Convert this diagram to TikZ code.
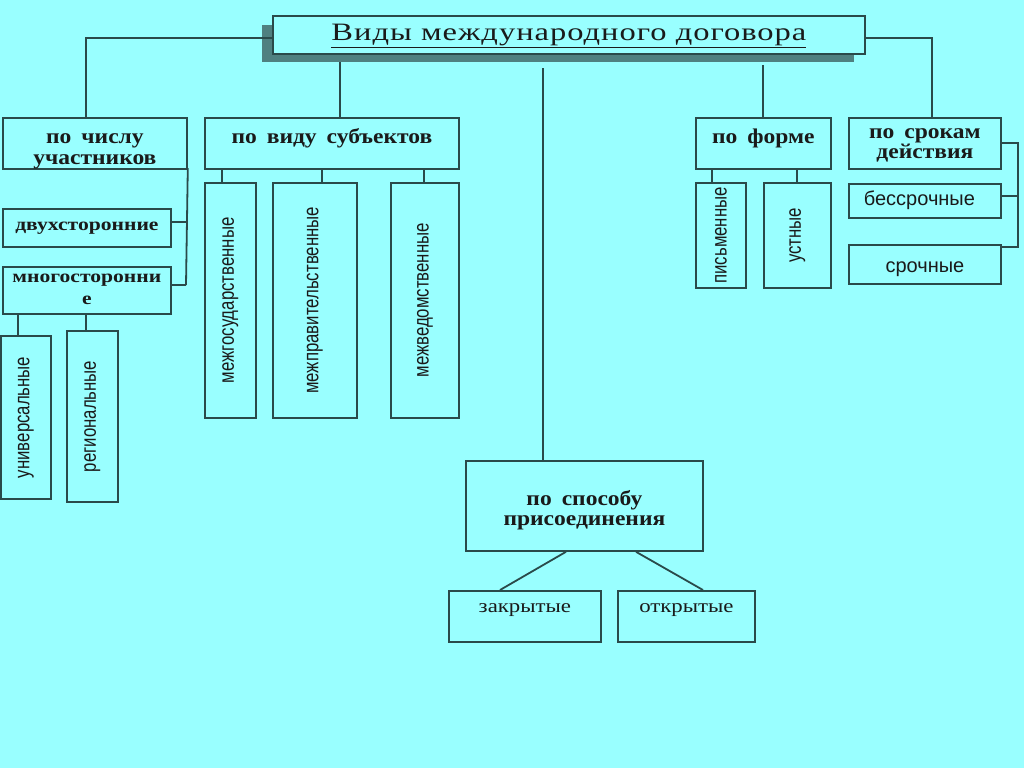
\documentclass[tikz,border=0pt]{standalone}
\usepackage{fontspec}
\setmainfont{Liberation Serif}
\newfontfamily\serh[FakeStretch=1.12,WordSpace=1.7]{Liberation Serif}
\newfontfamily\serw[FakeStretch=1.2]{Liberation Serif}
\newfontfamily\titlefont[FakeStretch=1.3,LetterSpace=4]{Liberation Serif}
\newfontfamily\sansw{Liberation Sans}
\newfontfamily\narrow[FakeStretch=0.78]{Liberation Sans}
\definecolor{bg}{HTML}{99FFFF}
\definecolor{ln}{HTML}{2A4A4A}
\definecolor{shadow}{HTML}{4F8080}
\definecolor{txt}{HTML}{1A1A1A}
\tikzset{
  box/.style={draw=ln, line width=1.8pt, inner sep=0pt, anchor=north west, text=txt},
  hd/.style={box, font=\serh\bfseries\fontsize{21}{20.5}\selectfont},
  sub/.style={box, font=\serw\bfseries\fontsize{18}{22}\selectfont},
  leaf/.style={box, font=\sansw\fontsize{20}{22}\selectfont},
  leafs/.style={box, font=\serw\fontsize{19}{22}\selectfont},
  vert/.style={box},
  link/.style={draw=ln, line width=1.8pt},
}
% #1: raise of the last baseline above the node centre; #2: lines
\newcommand{\lbl}[2]{\raisebox{#1}[0pt][0pt]{\begin{tabular}[b]{@{}c@{}}#2\end{tabular}}}
\newcommand{\vtext}[1]{\rotatebox{90}{\narrow\fontsize{21.5}{24}\selectfont #1}}
\begin{document}
\begin{tikzpicture}[x=1pt,y=-1pt]
\useasboundingbox[fill=bg] (0,0) rectangle (1024,768);
% title
\fill[shadow] (262,25) rectangle (854,62);
\node[box, fill=bg, minimum width=592pt, minimum height=38pt, font=\titlefont\fontsize{25}{28}\selectfont] (title) at (272,15) {\lbl{-6pt}{\underline{Виды международного договора}}};
% level 1 boxes
\node[hd, minimum width=184pt, minimum height=51pt] (num) at (2,117) {\lbl{-21pt}{по числу\\участников}};
\node[hd, minimum width=254pt, minimum height=51pt] (subj) at (204,117) {\lbl{-0.5pt}{по виду субъектов}};
\node[hd, minimum width=135pt, minimum height=51pt] (form) at (695,117) {\lbl{-0.5pt}{по форме}};
\node[hd, minimum width=152pt, minimum height=51pt] (term) at (848,117) {\lbl{-15.5pt}{по срокам\\действия}};
\node[hd, minimum width=237pt, minimum height=90pt] (join) at (465,460) {\lbl{-20pt}{по способу\\присоединения}};
% left column
\node[sub, minimum width=168pt, minimum height=38pt] (bi) at (2,208) {\lbl{-3pt}{двухсторонние}};
\node[sub, minimum width=168pt, minimum height=47pt] (multi) at (2,266) {\lbl{-14.5pt}{многосторонни\\е}};
\node[vert, minimum width=50pt, minimum height=163pt] (univ) at (0,335) {\vtext{универсальные}};
\node[vert, minimum width=51pt, minimum height=171pt] (reg) at (66,330) {\vtext{региональные}};
% subjects
\node[vert, minimum width=51pt, minimum height=235pt] (s1) at (204,182) {\vtext{межгосударственные}};
\node[vert, minimum width=84pt, minimum height=235pt] (s2) at (272,182) {\vtext{межправительственные}};
\node[vert, minimum width=68pt, minimum height=235pt] (s3) at (390,182) {\vtext{межведомственные}};
% form
\node[vert, minimum width=50pt, minimum height=105pt] (f1) at (695,182) {\vtext{письменные}};
\node[vert, minimum width=67pt, minimum height=105pt] (f2) at (763,182) {\vtext{устные}};
% term
\node[leaf, minimum width=152pt, minimum height=34pt] (t1) at (848,183) {\lbl{-5pt}{\hspace*{-11pt}бессрочные}};
\node[leaf, minimum width=152pt, minimum height=39pt] (t2) at (848,244) {\lbl{-8.5pt}{срочные}};
% join
\node[leafs, minimum width=152pt, minimum height=51pt] (closed) at (448,590) {\lbl{3.5pt}{закрытые}};
\node[leafs, minimum width=137pt, minimum height=51pt] (open) at (617,590) {\lbl{3.5pt}{открытые}};
% connectors from title
\draw[link] (title.west |- 0,38) -| (num.north -| 86,0);
\draw[link] (title.east |- 0,38) -| (term.north -| 932,0);
\draw[link] (340,62) -- (subj.north -| 340,0);
\draw[link] (543,68) -- (join.north -| 543,0);
\draw[link] (763,65) -- (form.north -| 763,0);
% left bracket
\coordinate (lb) at (186,285);
\draw[link] (num.east |- 0,168) -- (lb);
\draw[link] (bi.east |- 0,222) -- (186,222);
\draw[link] (multi.east |- 0,285) -- (lb);
\draw[link] (18,313) -- (univ.north -| 18,0);
\draw[link] (86,313) -- (reg.north -| 86,0);
% subjects
\draw[link] (222,168) -- (s1.north -| 222,0);
\draw[link] (322,168) -- (s2.north -| 322,0);
\draw[link] (424,168) -- (s3.north -| 424,0);
% form
\draw[link] (712,168) -- (f1.north -| 712,0);
\draw[link] (797,168) -- (f2.north -| 797,0);
% term bracket
\coordinate (rb1) at (1018,143);
\coordinate (rb3) at (1018,247);
\draw[link] (term.east |- rb1) -- (rb1) -- (rb3) -- (t2.east |- rb3);
\draw[link] (t1.east |- 0,196) -- (1018,196);
% join
\draw[link] (join.south -| 566,0) -- (closed.north -| 500,0);
\draw[link] (join.south -| 636,0) -- (open.north -| 703,0);
\end{tikzpicture}
\end{document}
